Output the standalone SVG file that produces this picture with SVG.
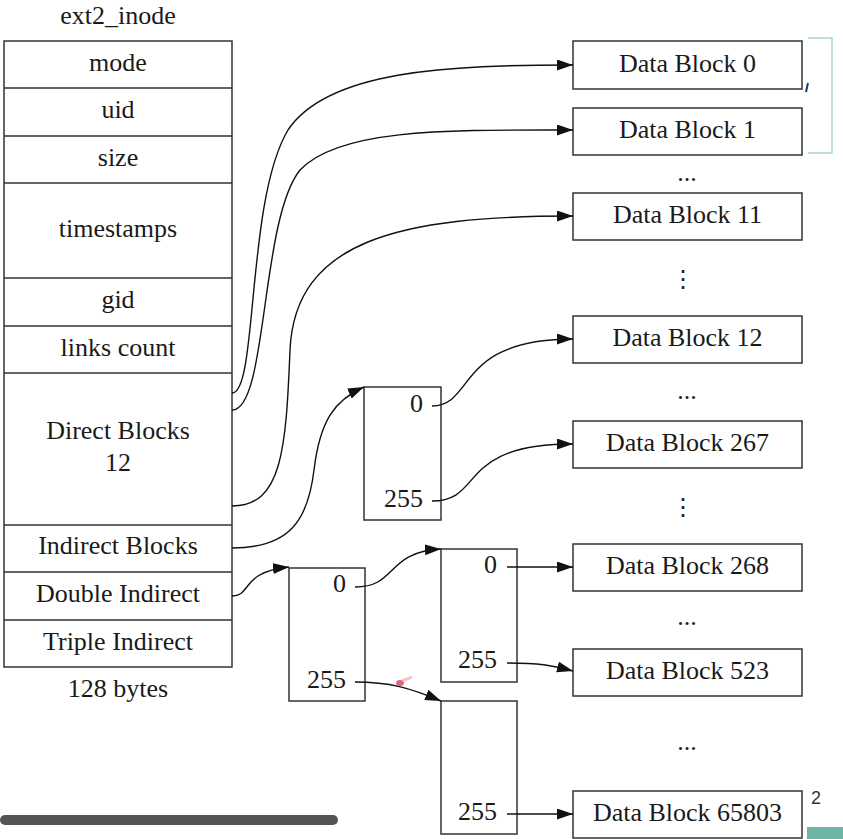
<svg xmlns="http://www.w3.org/2000/svg" width="843" height="839" viewBox="0 0 843 839">
<defs>
<marker id="ah" markerUnits="userSpaceOnUse" markerWidth="18" markerHeight="12" refX="16" refY="5.5" orient="auto">
<path d="M0,0 L16,5.5 L0,11 z" fill="#111"/>
</marker>
<style>
.t{font-family:"Liberation Serif","Times New Roman",serif;font-size:26px;fill:#1a1a1a;text-anchor:middle}
.n{font-family:"Liberation Serif","Times New Roman",serif;font-size:26px;fill:#1a1a1a;text-anchor:end}
.b{fill:#fff;stroke:#333;stroke-width:1.5}
.l{fill:none;stroke:#333;stroke-width:1.5}
.e{fill:none;stroke:#111;stroke-width:1.4}
.v{font-family:"DejaVu Sans",sans-serif;font-size:24px;fill:#1a1a1a;text-anchor:middle}
</style>
</defs>
<rect width="843" height="839" fill="#fff"/>

<g id="inode">
<text class="t" x="118" y="24">ext2_inode</text>
<rect class="b" x="4" y="41" width="228" height="626"/>
<path class="l" d="M4,88H232M4,136H232M4,183H232M4,278H232M4,326H232M4,373H232M4,525H232M4,572H232M4,620H232"/>
<text class="t" x="118" y="71">mode</text>
<text class="t" x="118" y="118">uid</text>
<text class="t" x="118" y="166">size</text>
<text class="t" x="118" y="237">timestamps</text>
<text class="t" x="118" y="308">gid</text>
<text class="t" x="118" y="356">links count</text>
<text class="t" x="118" y="439">Direct Blocks</text>
<text class="t" x="118" y="471">12</text>
<text class="t" x="118" y="554">Indirect Blocks</text>
<text class="t" x="118" y="602">Double Indirect</text>
<text class="t" x="118" y="650">Triple Indirect</text>
<text class="t" x="118" y="697">128 bytes</text>
</g>

<g id="ind1">
<rect class="b" x="364" y="387" width="77" height="133"/>
<text class="n" x="423" y="412">0</text>
<text class="n" x="423" y="507">255</text>
</g>
<g id="dbl1">
<rect class="b" x="289" y="568" width="76" height="133"/>
<text class="n" x="346" y="592">0</text>
<text class="n" x="346" y="688">255</text>
</g>
<g id="dbl2a">
<rect class="b" x="441" y="549" width="76" height="133"/>
<text class="n" x="497" y="573">0</text>
<text class="n" x="497" y="668">255</text>
</g>
<g id="dbl2b">
<rect class="b" x="441" y="701" width="76" height="133"/>
<text class="n" x="497" y="820">255</text>
</g>

<g id="db0"><rect class="b" x="573" y="41" width="229" height="48"/><text class="t" x="687.5" y="72">Data Block 0</text></g>
<g id="db1"><rect class="b" x="573" y="108" width="229" height="47"/><text class="t" x="687.5" y="138">Data Block 1</text></g>
<g id="db11"><rect class="b" x="573" y="193" width="229" height="47"/><text class="t" x="687.5" y="223">Data Block 11</text></g>
<g id="db12"><rect class="b" x="573" y="316" width="229" height="47"/><text class="t" x="687.5" y="346">Data Block 12</text></g>
<g id="db267"><rect class="b" x="573" y="421" width="229" height="47"/><text class="t" x="687.5" y="451">Data Block 267</text></g>
<g id="db268"><rect class="b" x="573" y="544" width="229" height="47"/><text class="t" x="687.5" y="574">Data Block 268</text></g>
<g id="db523"><rect class="b" x="573" y="649" width="229" height="47"/><text class="t" x="687.5" y="679">Data Block 523</text></g>
<g id="db65803"><rect class="b" x="573" y="791" width="229" height="47"/><text class="t" x="687.5" y="821">Data Block 65803</text></g>

<g id="ellipses">
<text class="t" x="687" y="181">...</text>
<text class="v" x="683" y="287">⋮</text>
<text class="t" x="687" y="399">...</text>
<text class="v" x="683" y="515">⋮</text>
<text class="t" x="687" y="625">...</text>
<text class="t" x="687" y="750">...</text>
</g>

<g id="connectors">
<path class="e" marker-end="url(#ah)" d="M232,393 C258,393 246,200 288,130 C328,70 450,65 573,65"/>
<path class="e" marker-end="url(#ah)" d="M232,410 C268,410 260,220 300,170 C340,128 450,130 573,130"/>
<path class="e" marker-end="url(#ah)" d="M232,506 C282,506 286,450 290,350 C295,240 400,216 573,216"/>
<path class="e" marker-end="url(#ah)" d="M232,548 C290,548 308,520 314,470 C320,420 335,400 364,387"/>
<path class="e" marker-end="url(#ah)" d="M232,596 C252,596 240,572 289,567"/>
<path class="e" marker-end="url(#ah)" d="M432,406 C475,406 455,339 573,339"/>
<path class="e" marker-end="url(#ah)" d="M432,501 C485,501 455,444 573,444"/>
<path class="e" marker-end="url(#ah)" d="M355,587 C398,587 385,552 441,549"/>
<path class="e" marker-end="url(#ah)" d="M355,682 C390,682 410,688 441,701"/>
<path class="e" marker-end="url(#ah)" d="M507,567 L573,567"/>
<path class="e" marker-end="url(#ah)" d="M507,663 C540,663 550,665 573,671"/>
<path class="e" marker-end="url(#ah)" d="M507,814 L573,814"/>
</g>

<g id="overlay">
<path d="M808,38 H832 V153 H808" fill="none" stroke="#a9d6cf" stroke-width="1.5"/>
<path d="M808,83 L806,92" stroke="#1f3a6b" stroke-width="2"/>
<ellipse cx="400" cy="683" rx="4" ry="3" fill="#d9425a" opacity="0.8"/>
<path d="M402,681 L412,677" stroke="#f0a0b0" stroke-width="3" opacity="0.6"/>
<text x="811" y="804" font-family="Liberation Sans,Arial,sans-serif" font-size="18" fill="#333">2</text>
<rect x="807" y="827" width="36" height="12" fill="#6fb3a7"/>
<rect x="0" y="815" width="338" height="10" rx="5" fill="#555"/>
</g>
</svg>
